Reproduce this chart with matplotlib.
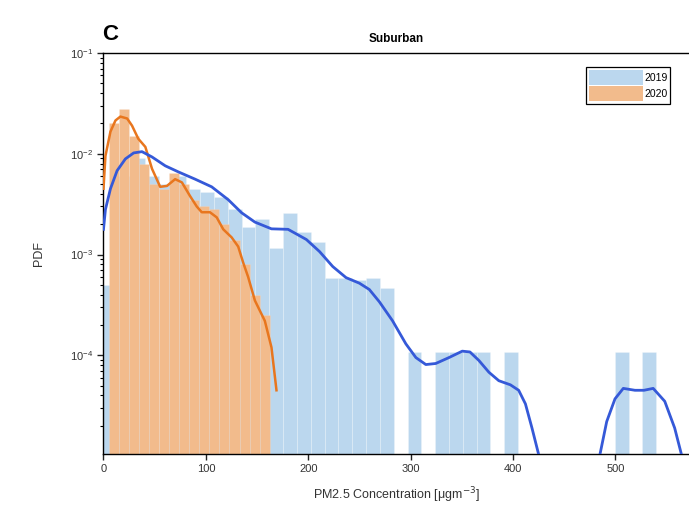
import numpy as np
import matplotlib
matplotlib.use("Agg")
import matplotlib.pyplot as plt
from matplotlib.patches import Patch

plt.rcParams['font.family'] = ['Liberation Sans', 'DejaVu Sans']

# histogram bins
bin_w_2019 = 13.5
pdf_2019 = [5e-4, 6e-3, 9e-3, 6e-3, 5e-3, 6e-3, 4.5e-3, 4.2e-3, 3.7e-3, 2.8e-3,
            1.86e-3, 2.24e-3, 1.17e-3, 2.57e-3, 1.66e-3, 1.32e-3, 5.9e-4, 5.9e-4, 5.6e-4, 5.9e-4,
            4.7e-4, 0, 1.07e-4, 0, 1.07e-4, 1.07e-4, 1.07e-4, 1.07e-4, 0, 1.07e-4,
            0, 0, 0, 0, 0, 0, 0, 1.07e-4, 0, 1.07e-4]

start_2020 = 5.0
bin_w_2020 = 9.84
pdf_2020 = [2.0e-2, 2.8e-2, 1.5e-2, 8e-3, 5e-3, 4.5e-3, 6.5e-3, 5e-3,
            3.5e-3, 3e-3, 2.8e-3, 2e-3, 1.4e-3, 8e-4, 4e-4, 2.5e-4]

# smoothed density curves
kde19_x = [0, 1.9, 6.8, 13.3, 21.4, 29.5, 37.6, 47.4, 60.3, 73.3, 89.5, 105.7, 121.9, 134.9,
           147.9, 164.1, 180.3, 198.2, 211.1, 224, 237, 250, 259.7, 269.5, 282.4, 295.4,
           305.2, 314.9, 324.6, 337.5, 350.5, 358, 366.7, 376.5, 386.2, 397.5, 405.6, 412.2,
           418.6, 425, 428]
kde19_y = [1.78e-3, 2.8e-3, 4.5e-3, 6.8e-3, 8.9e-3, 1.02e-2, 1.05e-2, 9.3e-3, 7.6e-3, 6.6e-3,
           5.6e-3, 4.7e-3, 3.5e-3, 2.6e-3, 2.1e-3, 1.8e-3, 1.78e-3, 1.41e-3, 1.07e-3, 7.6e-4,
           5.9e-4, 5.2e-4, 4.5e-4, 3.4e-4, 2.2e-4, 1.3e-4, 9.5e-5, 8.1e-5, 8.3e-5, 9.5e-5,
           1.1e-4, 1.08e-4, 8.9e-5, 6.8e-5, 5.6e-5, 5.1e-5, 4.5e-5, 3.3e-5, 1.9e-5, 1.05e-5, 8e-6]
kde19b_x = [483, 485.1, 491.6, 499.7, 507.8, 519.2, 528, 537, 548.3, 558, 564.5, 567]
kde19b_y = [8e-6, 1.05e-5, 2.2e-5, 3.7e-5, 4.7e-5, 4.5e-5, 4.5e-5, 4.7e-5, 3.5e-5, 1.9e-5, 1.05e-5, 8e-6]

kde20_x = [0, 1.9, 6.8, 11.7, 16.5, 23.1, 27.9, 34, 40.9, 47.4, 55.4, 62, 70, 76.6, 84.6, 91.1,
           96, 104, 110.6, 117, 125.2, 131.6, 136.5, 141.3, 147.9, 157.6, 164.1, 169]
kde20_y = [4.5e-3, 9.5e-3, 1.66e-2, 2.14e-2, 2.34e-2, 2.24e-2, 1.9e-2, 1.41e-2, 1.17e-2, 7.1e-3,
           4.7e-3, 4.8e-3, 5.6e-3, 5.2e-3, 3.8e-3, 3.0e-3, 2.63e-3, 2.63e-3, 2.34e-3, 1.78e-3,
           1.48e-3, 1.2e-3, 8.3e-4, 6e-4, 3.5e-4, 2.2e-4, 1.2e-4, 4.5e-5]

blue_fill = '#BBD7EE'
orange_fill = '#F2BB8C'
blue_line = '#3559D8'
orange_line = '#E8761E'

fig = plt.figure(figsize=(6.89, 5.28), dpi=100)
ax = fig.add_axes([0.1502, 0.1402, 0.8498, 0.7594])
ax.set_yscale('log')

h19 = np.array(pdf_2019)
left19 = np.arange(len(h19)) * bin_w_2019
m = h19 > 0
ax.bar(left19[m], h19[m], width=bin_w_2019, align='edge', color=blue_fill,
       edgecolor=(1, 1, 1, 0.25), linewidth=0.6, zorder=1)

h20 = np.array(pdf_2020)
left20 = start_2020 + np.arange(len(h20)) * bin_w_2020
ax.bar(left20, h20, width=bin_w_2020, align='edge', color=orange_fill,
       edgecolor=(1, 1, 1, 0.15), linewidth=0.6, zorder=2)

ax.plot(kde19_x, kde19_y, color=blue_line, lw=2.0, zorder=4)
ax.plot(kde19b_x, kde19b_y, color=blue_line, lw=2.0, zorder=4)
ax.plot(kde20_x, kde20_y, color=orange_line, lw=1.8, zorder=3)

ax.set_xlim(0, 572)
ax.set_ylim(1.05e-5, 1e-1)
ax.set_xticks([0, 100, 200, 300, 400, 500])
ax.spines['right'].set_visible(False)
for s in ['left', 'bottom', 'top']:
    ax.spines[s].set_linewidth(1.0)
ax.tick_params(axis='both', which='major', direction='out', length=4, width=1,
               labelsize=8, colors='#222222', labelcolor='#333333')
ax.tick_params(axis='y', which='minor', direction='out', length=2.5, width=0.8)
ax.tick_params(axis='x', which='minor', bottom=False)

ax.set_xlabel('PM2.5 Concentration [μgm$^{-3}$]', fontsize=9, color='#333333', labelpad=8)
ax.set_ylabel('PDF', fontsize=9, color='#333333', labelpad=18)
ax.set_title('Suburban', fontsize=8.5, fontweight='bold', pad=8)
fig.text(0.148, 0.925, 'C', fontsize=16, fontweight='bold')

handles = [Patch(facecolor=blue_fill, edgecolor='none', label='2019'),
           Patch(facecolor=orange_fill, edgecolor='none', label='2020')]
leg = ax.legend(handles=handles, loc='upper right', bbox_to_anchor=(0.968, 0.965),
                fontsize=7.5, handlelength=5.2, handleheight=1.9, handletextpad=0.1,
                borderpad=0.25, labelspacing=0.05, fancybox=False, framealpha=1,
                borderaxespad=0)
leg.get_frame().set_edgecolor('black')
leg.get_frame().set_linewidth(0.9)

fig.savefig('out.png', dpi=100)
